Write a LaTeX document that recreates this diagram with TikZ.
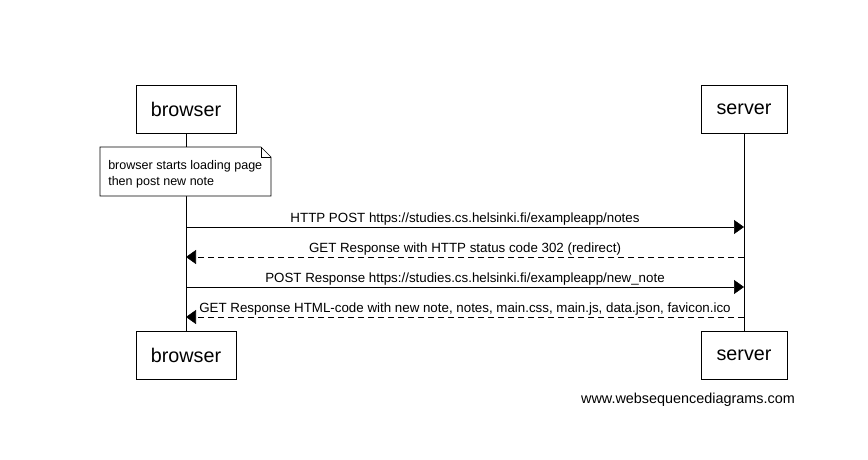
\documentclass[tikz,border=0pt]{standalone}
\usepackage{fontspec}
\setmainfont{Liberation Sans}
\usetikzlibrary{arrows.meta}

\tikzset{
  actor/.style={draw, minimum width=100*0.75pt, minimum height=48*0.75pt, inner sep=0pt, font=\fontsize{14.8}{16}\selectfont},
  msg/.style={font=\fontsize{10}{11}\selectfont, inner sep=1pt, anchor=south},
  call/.style={-{Triangle[length=7.5pt, width=10.5pt]}},
  reply/.style={call, dash pattern=on 4.5pt off 3pt}
}

\begin{document}
\begin{tikzpicture}[x=0.75pt, y=-0.75pt]
  \useasboundingbox (0,0) rectangle (868,460);

  % --- actors ---
  \node[actor] (bTop) at (186,109) {\raisebox{-1.5pt}{browser}};
  \node[actor, minimum width=86*0.75pt] (sTop) at (744,109) {\raisebox{-1.5pt}{server}};
  \node[actor] (bBot) at (186,355.5) {\raisebox{-1.5pt}{browser}};
  \node[actor, minimum width=86*0.75pt] (sBot) at (744,355.5) {\raisebox{-1.5pt}{server}};

  % --- lifelines ---
  \draw (bTop.south) -- (bBot.north);
  \draw (sTop.south) -- (sBot.north);

  % --- note ---
  \fill[white] (100,147) -- (261,147) -- (271,157) -- (271,196) -- (100,196) -- cycle;
  \draw (100,147) -- (261,147) -- (271,157) -- (271,196) -- (100,196) -- cycle;
  \draw (261,147) -- (261,157) -- (271,157);
  \node[anchor=west, align=left, inner sep=0pt, font=\fontsize{9.4}{12}\selectfont] (note) at (108,174)
    {browser starts loading page\\then post new note};

  % --- points on lifelines ---
  \coordinate (b1) at (186,227);  \coordinate (s1) at (744,227);
  \coordinate (b2) at (186,257);  \coordinate (s2) at (744,257);
  \coordinate (b3) at (186,287);  \coordinate (s3) at (744,287);
  \coordinate (b4) at (186,317);  \coordinate (s4) at (744,317);

  % --- messages ---
  \draw[call] (b1) -- (s1)
    node[msg, midway] {HTTP POST https://studies.cs.helsinki.fi/exampleapp/notes};
  \draw[reply] (s2) -- (b2)
    node[msg, midway] {GET Response with HTTP status code 302 (redirect)};
  \draw[call] (b3) -- (s3)
    node[msg, midway] {POST Response https://studies.cs.helsinki.fi/exampleapp/new\_note};
  \draw[reply] (s4) -- (b4)
    node[msg, midway] {GET Response HTML-code with new note, notes, main.css, main.js, data.json, favicon.ico};

  % --- watermark ---
  \node[font=\fontsize{10.8}{12}\selectfont] (mark) at (688,400) {www.websequencediagrams.com};

\end{tikzpicture}
\end{document}
